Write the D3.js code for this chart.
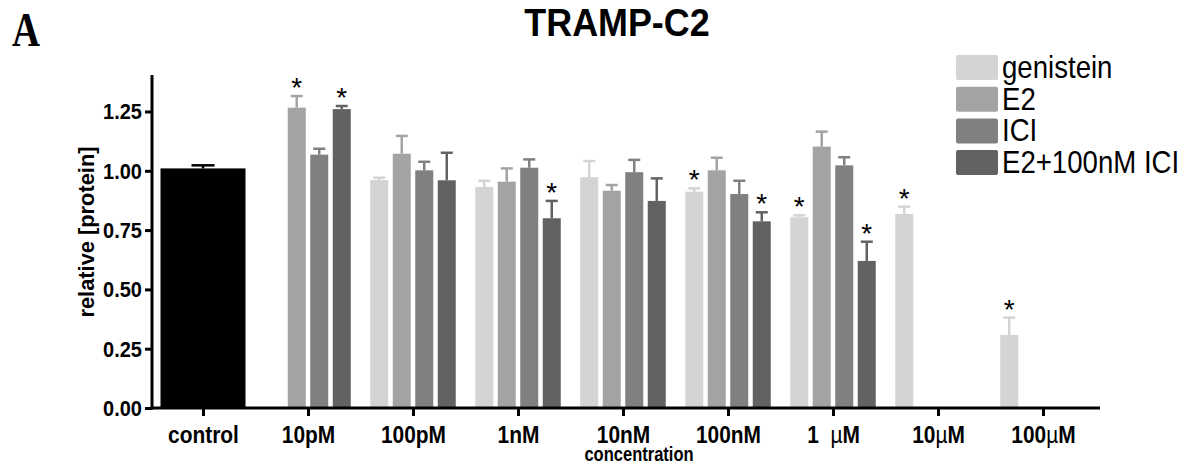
<!DOCTYPE html>
<html><head><meta charset="utf-8">
<script src="https://cdn.jsdelivr.net/npm/d3@7"></script>
<style>
html,body{margin:0;padding:0;background:#fff;}
svg{display:block;}
text{font-family:"Liberation Sans",Arial,sans-serif;}
</style></head>
<body>
<svg id="chart" width="1185" height="465"></svg>
<script>
// ---- data ----
const categories = ["control","10pM","100pM","1nM","10nM","100nM","1  µM","10µM","100µM"];
const series = ["genistein","E2","ICI","E2+100nM ICI"];
const controlValue = 1.01, controlErr = 0.013;
// values for 10pM .. 100µM (null = no bar)
const genistein    = [null, 0.961, 0.932, 0.973, 0.912, 0.804, 0.818, 0.308];
const genisteinErr = [null, 0.010, 0.026, 0.068, 0.014, 0.008, 0.031, 0.073];
const genisteinSig = [0, 0, 0, 0, 1, 1, 1, 1];
const e2           = [1.266, 1.072, 0.954, 0.916, 1.002, 1.102, null, null];
const e2Err        = [0.049, 0.075, 0.056, 0.024, 0.053, 0.063, null, null];
const e2Sig        = [1, 0, 0, 0, 0, 0, 0, 0];
const ici          = [1.068, 1.002, 1.013, 0.994, 0.902, 1.023, null, null];
const iciErr       = [0.025, 0.036, 0.035, 0.052, 0.056, 0.034, null, null];
const iciSig       = [0, 0, 0, 0, 0, 0, 0, 0];
const e2ici        = [1.260, 0.960, 0.800, 0.873, 0.787, 0.620, null, null];
const e2iciErr     = [0.013, 0.116, 0.073, 0.095, 0.038, 0.081, null, null];
const e2iciSig     = [1, 0, 1, 0, 1, 1, 0, 0];
const yTicks = [0, 0.25, 0.5, 0.75, 1.0, 1.25];
const colors = ["#d4d4d4", "#a3a3a6", "#808080", "#626262"];

const seriesData = [
  {v: genistein, e: genisteinErr, s: genisteinSig},
  {v: e2, e: e2Err, s: e2Sig},
  {v: ici, e: iciErr, s: iciSig},
  {v: e2ici, e: e2iciErr, s: e2iciSig}
];

const svg = d3.select("#chart");

// scales
const x = d3.scalePoint().domain(categories).range([203, 1043]);
const xi = d3.scaleBand().domain(series).range([-45, 45]).paddingInner(0.2).paddingOuter(0.1);
const y = d3.scaleLinear().domain([0, 1.4]).range([408, 75.9]);

function label(parent, tx, ty, sx, sy, rot) {
  return parent.append("text")
    .attr("transform", `translate(${tx},${ty})` + (rot ? ` rotate(${rot})` : "") + ` scale(${sx},${sy})`);
}

// title and panel letter
label(svg, 12, 46, 0.88, 1.1, 0)
  .style("font-family", '"Liberation Serif","Times New Roman",serif')
  .style("font-weight", "bold").style("font-size", "44px").text("A");
label(svg, 617, 36, 0.97, 1.05, 0).attr("text-anchor", "middle")
  .style("font-weight", "bold").style("font-size", "37px").text("TRAMP-C2");

// bars
const bars = [];
bars.push({cat: "control", x0: x("control") - 42.5, w: 85, v: controlValue, e: controlErr, sig: 0, color: "#000", cap: 23});
seriesData.forEach((sd, si) => {
  sd.v.forEach((v, ci) => {
    if (v == null) return;
    const cat = categories[ci + 1];
    bars.push({cat, x0: x(cat) + xi(series[si]), w: xi.bandwidth(), v, e: sd.e[ci], sig: sd.s[ci], color: colors[si], cap: 12});
  });
});

const g = svg.append("g");
bars.forEach(b => {
  const cx = b.x0 + b.w / 2;
  const top = y(b.v + b.e);
  g.append("line").attr("x1", cx).attr("x2", cx).attr("y1", y(b.v)).attr("y2", top)
    .attr("stroke", b.color).attr("stroke-width", 2.5);
  g.append("line").attr("x1", cx - b.cap / 2).attr("x2", cx + b.cap / 2).attr("y1", top).attr("y2", top)
    .attr("stroke", b.color).attr("stroke-width", 2.5);
  g.append("rect").attr("x", b.x0).attr("y", y(b.v)).attr("width", b.w).attr("height", y(0) - y(b.v))
    .attr("fill", b.color);
  if (b.sig) {
    g.append("text").attr("x", cx).attr("y", top + 1).attr("text-anchor", "middle")
      .style("font-size", "28px").text("*");
  }
});

// y axis
const yAxis = svg.append("g").attr("transform", "translate(152,0)")
  .call(d3.axisLeft(y).tickValues(yTicks).tickFormat(d3.format(".2f")).tickSizeOuter(0).tickSize(7).tickPadding(3));
yAxis.select(".domain").remove();
yAxis.selectAll(".tick line").attr("stroke", "#000").attr("stroke-width", 3);
yAxis.selectAll(".tick text").remove();
yAxis.selectAll(".tick").each(function(d) {
  label(d3.select(this), -10, 7.5, 1, 1.12, 0).attr("text-anchor", "end")
    .style("font-size", "20px").style("font-weight", "bold").attr("fill", "#000")
    .text(d3.format(".2f")(d));
});
svg.append("line").attr("x1", 152).attr("x2", 152).attr("y1", 75).attr("y2", 409.5)
  .attr("stroke", "#000").attr("stroke-width", 3);

// x axis
const xAxis = svg.append("g").attr("transform", "translate(0,408)")
  .call(d3.axisBottom(x).tickSizeOuter(0).tickSize(8).tickPadding(10).tickFormat(() => ""));
xAxis.select(".domain").remove();
xAxis.selectAll(".tick line").attr("stroke", "#000").attr("stroke-width", 3);
xAxis.selectAll(".tick").each(function(d) {
  const t = label(d3.select(this), 0, 34.5, 0.95, 1.1, 0).attr("text-anchor", "middle")
    .attr("fill", "#000").style("font-size", "22px").style("font-weight", "bold")
    .style("white-space", "pre");
  const idx = d.indexOf("µ");
  if (idx >= 0) {
    t.append("tspan").text(d.slice(0, idx));
    t.append("tspan").style("font-weight", "normal").text("µ");
    t.append("tspan").text(d.slice(idx + 1));
  } else {
    t.text(d);
  }
});
svg.append("line").attr("x1", 150.5).attr("x2", 1100).attr("y1", 408).attr("y2", 408)
  .attr("stroke", "#000").attr("stroke-width", 3);

// axis titles
label(svg, 639, 460.5, 0.87, 1.1, 0).attr("text-anchor", "middle")
  .style("font-size", "19px").style("font-weight", "bold").text("concentration");
label(svg, 94, 232, 1.15, 1.12, -90).attr("text-anchor", "middle")
  .style("font-size", "19px").style("font-weight", "bold").text("relative [protein]");

// legend
const leg = svg.append("g").attr("transform", "translate(956,55)");
series.forEach((s, i) => {
  const row = leg.append("g").attr("transform", `translate(0,${i * 31.7})`);
  row.append("rect").attr("width", 42).attr("height", 25).attr("rx", 2).attr("fill", colors[i]);
  label(row, 46, 23, 0.92, 1.05, 0).style("font-size", "30px").attr("fill", "#000").text(s);
});
</script>
</body></html>
